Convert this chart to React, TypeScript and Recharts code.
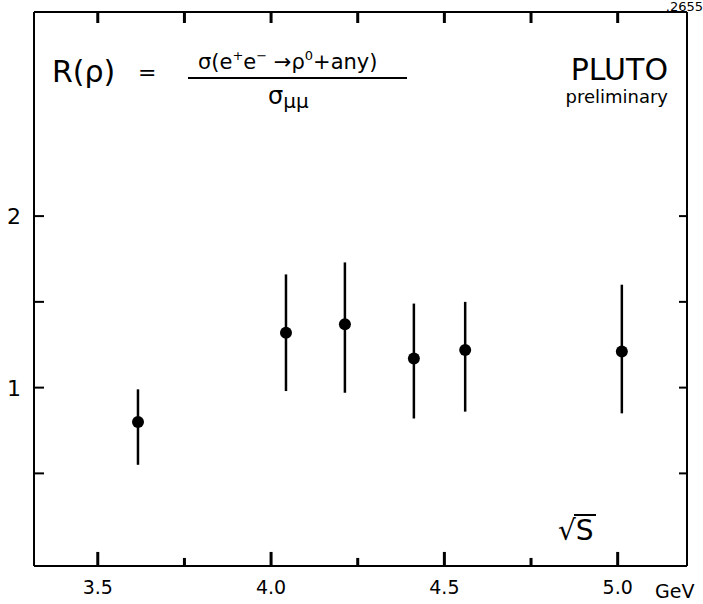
import {
  ComposedChart,
  ErrorBar,
  ReferenceLine,
  Scatter,
  XAxis,
  YAxis,
} from "recharts";

// ---------------------------------------------------------------------------
// Data read off the PLUTO R(rho) plot
// ---------------------------------------------------------------------------

const energies = [3.616, 4.043, 4.213, 4.412, 4.56, 5.012];
const rValues = [0.8, 1.32, 1.37, 1.17, 1.22, 1.21];
const errLow = [0.25, 0.34, 0.4, 0.35, 0.36, 0.36];
const errHigh = [0.19, 0.34, 0.36, 0.32, 0.28, 0.39];

const xTicks = [3.5, 3.75, 4.0, 4.25, 4.5, 4.75, 5.0];
const xLabelled = [3.5, 4.0, 4.5, 5.0];
const yTicks = [0.5, 1, 1.5, 2];
const yLabelled = [1, 2];

const X_DOMAIN: [number, number] = [3.316, 5.2];
const Y_DOMAIN: [number, number] = [-0.04, 3.19];

// inward tick lengths for the horizontal frame edges, in y-data units
const MAJOR_LEN = 0.082;
const MINOR_LEN = 0.047;
const TOP_LEN = 0.064;

const FONT = "'DejaVu Sans', sans-serif";

const rows = energies.map((e, i) => ({
  e,
  r: rValues[i],
  err: [errLow[i], errHigh[i]] as [number, number],
}));

// ---------------------------------------------------------------------------
// Tick renderers (labels only for x; tick marks come from ReferenceLine
// segments so they point into the frame).
// ---------------------------------------------------------------------------

function BottomTick(props: any) {
  const { x, y, payload } = props;
  const v = payload.value as number;
  if (!xLabelled.includes(v)) return <g />;
  return (
    <text x={x} y={y + 28} textAnchor="middle" fontSize={19} fontFamily={FONT} fill="#000">
      {v.toFixed(1)}
    </text>
  );
}

function LeftTick(props: any) {
  const { x, y, payload } = props;
  const v = payload.value as number;
  return (
    <g>
      <line x1={x} y1={y} x2={x + 10} y2={y} stroke="#000" strokeWidth={2} />
      {yLabelled.includes(v) && (
        <text x={x - 20} y={y + 8} textAnchor="middle" fontSize={22} fontFamily={FONT} fill="#000">
          {v}
        </text>
      )}
    </g>
  );
}

function RightTick(props: any) {
  const { x, y } = props;
  return <line x1={x} y1={y} x2={x - 8} y2={y} stroke="#000" strokeWidth={2} />;
}

const axisLine = { stroke: "#000", strokeWidth: 2 };

export default function App() {
  return (
    <div style={{ position: "absolute", left: 0, top: 0, background: "#fff" }}>
      <ComposedChart
        width={703}
        height={604}
        data={rows}
        margin={{ top: 12, right: 15, bottom: 37, left: 33 }}
      >
        <XAxis
          xAxisId="b"
          dataKey="e"
          type="number"
          domain={X_DOMAIN}
          ticks={xTicks}
          allowDataOverflow
          height={1}
          tickSize={0}
          tickMargin={0}
          tickLine={false}
          axisLine={axisLine}
          tick={<BottomTick />}
          interval={0}
        />
        <YAxis
          yAxisId="l"
          type="number"
          domain={Y_DOMAIN}
          ticks={yTicks}
          allowDataOverflow
          width={1}
          tickSize={0}
          tickMargin={0}
          tickLine={false}
          axisLine={axisLine}
          tick={<LeftTick />}
          interval={0}
        />
        <YAxis
          yAxisId="r"
          orientation="right"
          type="number"
          domain={Y_DOMAIN}
          ticks={yTicks}
          allowDataOverflow
          width={1}
          tickSize={0}
          tickMargin={0}
          tickLine={false}
          axisLine={axisLine}
          tick={<RightTick />}
          interval={0}
        />

        {/* top edge of the frame */}
        <ReferenceLine xAxisId="b" yAxisId="l" y={Y_DOMAIN[1]} stroke="#000" strokeWidth={2} />

        {/* inward tick marks on the bottom and top edges */}
        {xTicks.map((v) => (
          <ReferenceLine
            key={`b${v}`}
            xAxisId="b"
            yAxisId="l"
            ifOverflow="visible"
            segment={[
              { x: v, y: Y_DOMAIN[0] },
              { x: v, y: Y_DOMAIN[0] + (xLabelled.includes(v) ? MAJOR_LEN : MINOR_LEN) },
            ]}
            stroke="#000"
            strokeWidth={3}
          />
        ))}
        {xTicks.map((v) => (
          <ReferenceLine
            key={`t${v}`}
            xAxisId="b"
            yAxisId="l"
            ifOverflow="visible"
            segment={[
              { x: v, y: Y_DOMAIN[1] },
              { x: v, y: Y_DOMAIN[1] - TOP_LEN },
            ]}
            stroke="#000"
            strokeWidth={3}
          />
        ))}

        <Scatter
          xAxisId="b"
          yAxisId="l"
          dataKey="r"
          fill="#000"
          isAnimationActive={false}
          shape={(p: any) => <circle cx={p.cx} cy={p.cy} r={6} fill="#000" />}
        >
          <ErrorBar dataKey="err" direction="y" width={0} stroke="#000" strokeWidth={2.5} />
        </Scatter>

        {/* Annotations from the original figure */}
        <text x={52} y={82} fontSize={30} fontFamily={FONT} fill="#000">R(ρ)</text>
        <text x={138} y={80} fontSize={22} fontFamily={FONT} fill="#000">=</text>
        <text x={198} y={69} fontSize={21} fontFamily={FONT} fill="#000">
          σ(e<tspan fontSize={13} dy={-9}>+</tspan>
          <tspan dy={9}>e</tspan>
          <tspan fontSize={13} dy={-9}>−</tspan>
          <tspan dy={9}> →ρ</tspan>
          <tspan fontSize={13} dy={-9}>0</tspan>
          <tspan dy={9}>+any)</tspan>
        </text>
        <line x1={188} y1={78} x2={407} y2={78} stroke="#000" strokeWidth={2} />
        <text x={268} y={104} fontSize={24} fontFamily={FONT} fill="#000">
          σ<tspan fontSize={20} dy={4}>μμ</tspan>
        </text>
        <text x={668} y={80} textAnchor="end" fontSize={30} fontFamily={FONT} fill="#000">PLUTO</text>
        <text x={668} y={103} textAnchor="end" fontSize={18} fontFamily={FONT} fill="#000">preliminary</text>
        <text x={558} y={540} fontSize={28} fontFamily={FONT} fill="#000">√S</text>
        <line x1={574} y1={515} x2={596} y2={515} stroke="#000" strokeWidth={2} />
        <text x={655} y={598} fontSize={19} fontFamily={FONT} fill="#000">GeV</text>
        <text x={703} y={11} textAnchor="end" fontSize={13} fontFamily={FONT} fill="#000">.2655</text>
      </ComposedChart>
    </div>
  );
}
